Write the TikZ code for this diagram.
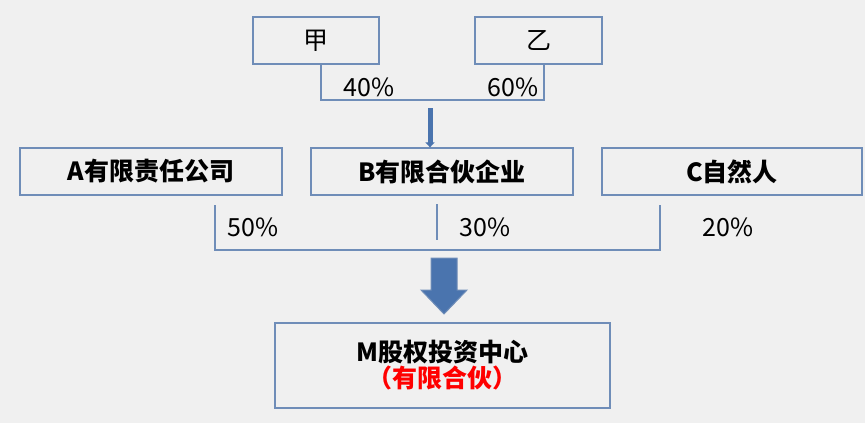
\documentclass[tikz,border=0pt]{standalone}
\usepackage{fontspec}
\setmainfont{Noto Sans CJK SC}
\usetikzlibrary{arrows.meta}
\definecolor{bg}{HTML}{F0F0F0}
\definecolor{edge}{HTML}{6F8DB8}
\definecolor{arr}{HTML}{4A74AE}
\begin{document}
\begin{tikzpicture}[x=1pt,y=-1pt,
  box/.style={draw=edge,line width=1.3pt,fill=bg,minimum height=47pt,inner sep=0pt,font=\fontsize{25}{28}\selectfont\bfseries},
  pct/.style={font=\fontsize{25}{27}\selectfont,inner sep=0pt},
  ln/.style={draw=edge,line width=1.1pt}]
\fill[bg] (0,0) rectangle (865,423);
\useasboundingbox (0,0) rectangle (865,423);
\node[box,minimum width=126pt,font=\fontsize{25}{28}\selectfont] (jia) at (316,40.5) {甲};
\node[box,minimum width=127pt,font=\fontsize{25}{28}\selectfont] (yi) at (538.5,40.5) {乙};
\node[box,minimum width=262pt] (A) at (151,171.5) {A有限责任公司};
\node[box,minimum width=262pt] (B) at (442,171.5) {B有限合伙企业};
\node[box,minimum width=260pt] (C) at (732,171.5) {C自然人};
\node[box,minimum width=335pt,minimum height=85pt,align=center] (M) at (442.5,365.5) {M股权投资中心\\[-2pt]\textcolor{red}{（有限合伙）}};
\coordinate (j1) at (321,64); \coordinate (y1) at (544,64);
\draw[ln] (j1) |- (y1 |- 0,100) -- (y1);
\node[pct] (p40) at (369,87) {40\%};
\node[pct] (p60) at (513,87) {60\%};
\coordinate (t1) at (430,108);
\draw[arr,line width=5pt,-{Triangle[length=5pt,width=9pt]}] (t1) -- (B.north -| t1);
\coordinate (a1) at (215,205); \coordinate (c1) at (660,205);
\draw[ln] (a1) |- (c1 |- 0,250) -- (c1);
\coordinate (b1) at (437,204); \coordinate (b2) at (437,240);
\draw[ln] (b1) -- (b2);
\node[pct] (p50) at (253,227) {50\%};
\node[pct] (p30) at (485,227) {30\%};
\node[pct] (p20) at (728,227) {20\%};
\coordinate (ba) at (444,258);
\filldraw[fill=arr,draw=edge,line width=1pt] (ba) ++(-13,0) -- ++(26,0) -- ++(0,32) -- ++(10,0) -- (444,314) -- (421,290) -- ++(10,0) -- cycle;
\end{tikzpicture}
\end{document}
